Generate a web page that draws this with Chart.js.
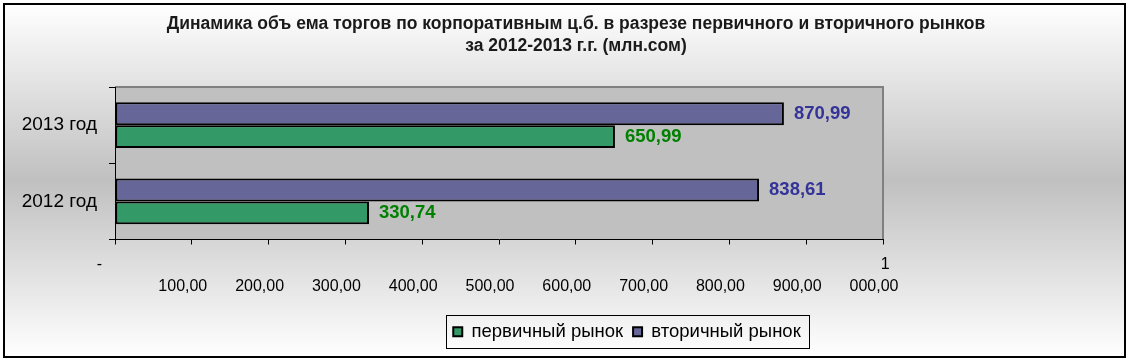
<!DOCTYPE html>
<html>
<head>
<meta charset="utf-8">
<script src="https://cdn.jsdelivr.net/npm/chart.js@4/dist/chart.umd.min.js"></script>
<style>
  body { margin: 0; background: #fff; overflow: hidden; }
</style>
</head>
<body>
<canvas id="mycanvas" width="1130" height="362"></canvas>
<script>
var years = ['2013 год', '2012 год'];
var primary = [650.99, 330.74];     // первичный рынок
var secondary = [870.99, 838.61];   // вторичный рынок
var xTickLabels = [
  ['-   ', ''], ['', '100,00'], ['', '200,00'], ['', '300,00'], ['', '400,00'],
  ['', '500,00'], ['', '600,00'], ['', '700,00'], ['', '800,00'], ['', '900,00'],
  ['     1', '000,00']
];
var titleLines = [
  'Динамика объ ема торгов по корпоративным ц.б. в разрезе первичного и вторичного рынков',
  'за 2012-2013 г.г. (млн.сом)'
];

var labelColors = ['#333399', '#008000'];

// background, plot area, outer frame
var framePlugin = {
  id: 'frame',
  beforeDraw: function(chart) {
    var ctx = chart.ctx;
    var a = chart.chartArea;
    ctx.save();
    var g = ctx.createLinearGradient(0, 4, 0, 357);
    g.addColorStop(0, '#ffffff');
    g.addColorStop(0.5, '#c0c0c0');
    g.addColorStop(1, '#ffffff');
    ctx.fillStyle = g;
    ctx.fillRect(4, 4, 1121, 353);
    ctx.fillStyle = '#c0c0c0';
    ctx.fillRect(a.left, a.top, a.right - a.left, a.bottom - a.top);
    ctx.strokeStyle = '#808080';
    ctx.lineWidth = 2;
    ctx.beginPath();
    ctx.moveTo(a.left, a.top);
    ctx.lineTo(a.right, a.top);
    ctx.lineTo(a.right, a.bottom);
    ctx.stroke();
    ctx.restore();
  },
  afterLayout: function(chart) {
    // legend sits right of centre in the original
    var l = chart.legend;
    var dx = 627 - (l.left + l.right) / 2;
    l.left += dx;
    l.right += dx;
  },
  afterDraw: function(chart) {
    var ctx = chart.ctx;
    ctx.save();
    // legend frame
    var hb = chart.legend.legendHitBoxes;
    if (hb && hb.length) {
      var first = hb[0], last = hb[hb.length - 1];
      var cy = first.top + first.height / 2;
      ctx.strokeStyle = '#000';
      ctx.lineWidth = 1;
      ctx.strokeRect(Math.round(first.left - 7) + 0.5, Math.round(cy - 17) + 0.5,
        Math.round(last.left + last.width + 9 - (first.left - 7)), 33);
    }
    // outer frame
    ctx.strokeStyle = '#000';
    ctx.lineWidth = 2;
    ctx.strokeRect(4, 4, 1121, 353);
    ctx.restore();
  }
};

// value labels next to bar ends
var valuePlugin = {
  id: 'values',
  afterDatasetsDraw: function(chart) {
    var ctx = chart.ctx;
    ctx.save();
    ctx.font = 'bold 18.5px "Liberation Sans", Arial, sans-serif';
    ctx.textAlign = 'left';
    ctx.textBaseline = 'middle';
    chart.data.datasets.forEach(function(ds, i) {
      var meta = chart.getDatasetMeta(i);
      ctx.fillStyle = labelColors[i];
      meta.data.forEach(function(bar, j) {
        var txt = ds.data[j].toFixed(2).replace('.', ',');
        ctx.fillText(txt, bar.x + 10, bar.y);
      });
    });
    ctx.restore();
  }
};

var chartdata = {
  labels: years,
  datasets: [
    {
      label: 'вторичный рынок',
      backgroundColor: '#666699',
      borderColor: '#000000',
      borderWidth: 2,
      borderSkipped: false,
      data: secondary
    },
    {
      label: 'первичный рынок',
      backgroundColor: '#339966',
      borderColor: '#000000',
      borderWidth: 2,
      borderSkipped: false,
      data: primary
    }
  ]
};

var ctx = document.getElementById('mycanvas');

var BarGraph = new Chart(ctx, {
  type: 'bar',
  data: chartdata,
  plugins: [framePlugin, valuePlugin],
  options: {
    indexAxis: 'y',
    responsive: false,
    animation: false,
    categoryPercentage: 0.6,
    barPercentage: 1.0,
    layout: { padding: { left: 22, right: 0, top: 0, bottom: 11 } },
    plugins: {
      title: {
        display: true,
        text: titleLines,
        color: '#1a1a1a',
        font: { family: '"Liberation Sans", Arial, sans-serif', size: 17.5, weight: 'bold', lineHeight: '22px' },
        padding: { top: 13, bottom: 30 }
      },
      legend: {
        position: 'bottom',
        labels: {
          color: '#000',
          boxWidth: 9,
          boxHeight: 9,
          padding: 10,
          font: { family: '"Liberation Sans", Arial, sans-serif', size: 18.5 },
          sort: function(a, b) { return b.datasetIndex - a.datasetIndex; }
        }
      },
      tooltip: { enabled: false }
    },
    scales: {
      x: {
        type: 'linear',
        min: 0,
        max: 1000,
        afterFit: function(s) { s.height = 73; },
        grid: { drawOnChartArea: false, tickLength: 5, color: '#000' },
        border: { color: '#000', width: 1 },
        ticks: {
          stepSize: 100,
          autoSkip: false,
          maxRotation: 0,
          labelOffset: -9,
          padding: 9,
          color: '#000',
          font: { family: '"Liberation Sans", Arial, sans-serif', size: 16, lineHeight: '22px' },
          callback: function(v, i) { return xTickLabels[i]; }
        }
      },
      y: {
        type: 'category',
        offset: true,
        afterFit: function(s) { s.width = 93; },
        grid: { offset: true, drawOnChartArea: false, tickLength: 6, color: '#000' },
        border: { color: '#000', width: 1 },
        ticks: {
          padding: 12,
          color: '#000',
          font: { family: '"Liberation Sans", Arial, sans-serif', size: 19 }
        }
      },
      y2: {
        type: 'category',
        labels: years,
        position: 'right',
        afterFit: function(s) { s.width = 247; },
        grid: { display: false },
        border: { display: false },
        ticks: { display: false }
      }
    }
  }
});
</script>
</body>
</html>
